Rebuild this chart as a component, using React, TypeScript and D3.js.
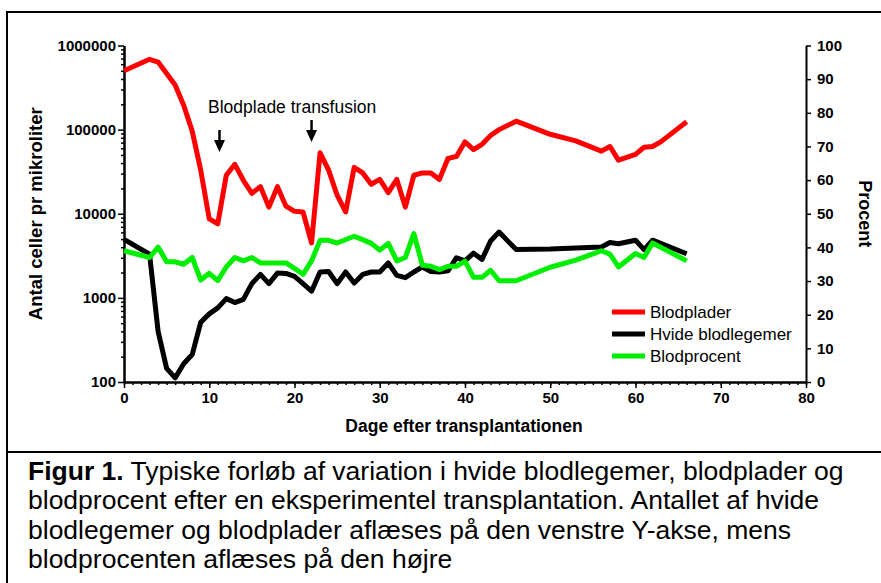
import { useRef, useEffect } from "react"
import * as d3 from "d3"

// days after transplant + values
const plateletDays = [0, 3, 4, 6, 7, 8, 9, 10, 11, 12, 13, 14, 15, 16, 17, 18, 19, 20, 21, 22, 23, 24, 25, 26, 27, 28, 29, 30, 31, 32, 33, 34, 35, 36, 37, 38, 39, 40, 41, 42, 43, 44, 46, 50, 53, 56, 57, 58, 60, 61, 62, 63, 66]
const plateletValues = [500000, 685000, 635000, 340000, 195000, 96000, 33000, 8700, 7600, 28700, 38700, 25000, 17500, 21000, 12000, 21000, 12300, 10700, 10500, 4500, 53000, 33000, 16600, 10500, 35600, 30600, 22400, 25600, 17800, 25600, 12000, 28700, 30600, 30600, 25600, 45400, 48000, 71600, 58000, 67000, 85000, 100000, 126000, 88000, 73600, 55500, 63000, 43400, 50700, 61700, 63000, 72000, 124000]

const wbcDays = [0, 3, 4, 5, 6, 7, 8, 9, 10, 11, 12, 13, 14, 15, 16, 17, 18, 19, 20, 21, 22, 23, 24, 25, 26, 27, 28, 29, 30, 31, 32, 33, 34, 35, 36, 37, 38, 39, 40, 41, 42, 43, 44, 46, 50, 56, 57, 58, 60, 61, 62, 66]
const wbcValues = [4970, 3300, 400, 145, 112, 165, 212, 513, 645, 760, 980, 880, 960, 1475, 1900, 1475, 1970, 1950, 1800, 1475, 1200, 2030, 2060, 1475, 2030, 1500, 1900, 2030, 2030, 2600, 1850, 1740, 2030, 2330, 2060, 2030, 2100, 3000, 2760, 3400, 2870, 4750, 6050, 3750, 3800, 4030, 4540, 4400, 4850, 3750, 4850, 3350]

const hctDays = [0, 3, 4, 5, 6, 7, 8, 9, 10, 11, 12, 13, 14, 15, 16, 19, 20, 21, 22, 23, 24, 25, 27, 28, 29, 30, 31, 32, 33, 34, 35, 36, 37, 38, 39, 40, 41, 42, 43, 44, 46, 50, 53, 56, 57, 58, 60, 61, 62, 66]
const hctValues = [39, 37, 40.1, 35.7, 35.7, 35, 37, 30.3, 32.3, 30.1, 34.2, 37, 36, 37, 35.4, 35.4, 33.8, 32, 36, 42.1, 42.1, 41.3, 43.3, 42.3, 41.2, 39.2, 41.2, 36, 37, 44.1, 34.7, 34.4, 33.4, 34.4, 34.4, 35.9, 31.1, 31.1, 33.2, 30.1, 30.1, 34.1, 36.2, 39, 38, 34.2, 38.2, 37, 41.3, 36]

const leftTicks = [100, 1000, 10000, 100000, 1000000]
const rightTicks = [0, 10, 20, 30, 40, 50, 60, 70, 80, 90, 100]
const xTicks = [0, 10, 20, 30, 40, 50, 60, 70, 80]
const transfusionDays = [11.2, 22]

const legendLabels = ["Blodplader", "Hvide blodlegemer", "Blodprocent"]
const colors = ["#ff0000", "#000000", "#00ee00"]

const captionLines = [
  "Typiske forløb af variation i hvide blodlegemer, blodplader og",
  "blodprocent efter en eksperimentel transplantation. Antallet af hvide",
  "blodlegemer og blodplader aflæses på den venstre Y-akse, mens",
  "blodprocenten aflæses på den højre",
]

const FONT = "'Liberation Sans', Arial, sans-serif"

export default function App() {
  const svgRef = useRef<SVGSVGElement>(null)

  useEffect(() => {
    if (!svgRef.current) return
    const root = d3.select(svgRef.current)
    root.selectAll("*").remove()

    const W = 881
    const H = 583
    const plot = { left: 124, right: 806, top: 45.5, bottom: 382 }

    const x = d3.scaleLinear().domain([0, 80]).range([plot.left, plot.right])
    const yL = d3.scaleLog().domain([100, 1000000]).range([plot.bottom, plot.top])
    const yR = d3.scaleLinear().domain([0, 100]).range([plot.bottom, plot.top])

    root.append("rect").attr("width", W).attr("height", H).attr("fill", "#fff")

    // frames
    root.append("path")
      .attr("d", `M${W + 5},12 H7 V${H + 5}`)
      .attr("fill", "none").attr("stroke", "#000").attr("stroke-width", 2)
    root.append("line")
      .attr("x1", 7).attr("x2", W + 5).attr("y1", 452).attr("y2", 452)
      .attr("stroke", "#000").attr("stroke-width", 2)

    const styleAxis = (g: any) => {
      g.select(".domain").attr("stroke-width", 2)
      g.selectAll(".tick line").attr("stroke-width", 1.5)
      g.selectAll("text").attr("font-family", FONT).attr("font-weight", "bold").attr("font-size", 15).attr("fill", "#000")
    }

    // left log axis
    const minor: number[] = []
    for (let e = 2; e < 6; e++) for (let m = 2; m < 10; m++) minor.push(m * Math.pow(10, e))
    root.append("g").attr("transform", `translate(${plot.left},0)`)
      .call(d3.axisLeft(yL).tickValues(minor).tickSize(3).tickSizeOuter(0).tickFormat(() => ""))
      .call(styleAxis)
    root.append("g").attr("transform", `translate(${plot.left},0)`)
      .call(d3.axisLeft(yL).tickValues(leftTicks).tickSize(6).tickSizeOuter(0).tickPadding(2).tickFormat(d3.format("d")))
      .call(styleAxis)

    // right axis
    root.append("g").attr("transform", `translate(${plot.right},0)`)
      .call(d3.axisRight(yR).tickValues(rightTicks).tickSize(5).tickSizeOuter(0).tickPadding(6))
      .call(styleAxis)

    // x axis
    root.append("g").attr("transform", `translate(0,${plot.bottom})`)
      .call(d3.axisBottom(x).tickValues(d3.range(0, 81, 1)).tickSize(3).tickSizeOuter(0).tickFormat(() => ""))
      .call(styleAxis)
    root.append("g").attr("transform", `translate(0,${plot.bottom})`)
      .call(d3.axisBottom(x).tickValues(xTicks).tickSize(6).tickSizeOuter(0).tickPadding(4))
      .call(styleAxis)

    // axis titles
    root.append("text")
      .attr("transform", `translate(42,${(plot.top + plot.bottom) / 2}) rotate(-90)`)
      .attr("text-anchor", "middle").attr("font-family", FONT).attr("font-weight", "bold").attr("font-size", 18.5)
      .text("Antal celler pr mikroliter")
    root.append("text")
      .attr("transform", `translate(859,${(plot.top + plot.bottom) / 2}) rotate(90)`)
      .attr("text-anchor", "middle").attr("font-family", FONT).attr("font-weight", "bold").attr("font-size", 18)
      .text("Procent")
    root.append("text")
      .attr("x", 464).attr("y", 432)
      .attr("text-anchor", "middle").attr("font-family", FONT).attr("font-weight", "bold").attr("font-size", 17.5)
      .text("Dage efter transplantationen")

    // series
    const lineL = d3.line<[number, number]>().x((d) => x(d[0])).y((d) => yL(d[1]))
    const lineR = d3.line<[number, number]>().x((d) => x(d[0])).y((d) => yR(d[1]))
    const series = [
      { pts: plateletDays.map((d, i) => [d, plateletValues[i]] as [number, number]), gen: lineL },
      { pts: wbcDays.map((d, i) => [d, wbcValues[i]] as [number, number]), gen: lineL },
      { pts: hctDays.map((d, i) => [d, hctValues[i]] as [number, number]), gen: lineR },
    ]
    series.forEach((s, i) => {
      root.append("path")
        .attr("d", s.gen(s.pts))
        .attr("fill", "none").attr("stroke", colors[i]).attr("stroke-width", 5)
        .attr("stroke-linejoin", "round")
    })

    // annotation
    root.append("text")
      .attr("x", 208).attr("y", 113)
      .attr("font-family", FONT).attr("font-size", 17.5).attr("fill", "#000")
      .text("Blodplade transfusion")
    const arrowTops = [130, 120]
    transfusionDays.forEach((d, i) => {
      const ax = x(d)
      const top = arrowTops[i]
      root.append("line").attr("x1", ax).attr("x2", ax).attr("y1", top).attr("y2", top + 12)
        .attr("stroke", "#000").attr("stroke-width", 2.5)
      root.append("path")
        .attr("d", `M${ax - 5.5},${top + 10} L${ax + 5.5},${top + 10} L${ax},${top + 22} Z`)
        .attr("fill", "#000")
    })

    // legend
    legendLabels.forEach((lab, i) => {
      const ly = 312 + i * 22
      root.append("line").attr("x1", 612).attr("x2", 645).attr("y1", ly).attr("y2", ly)
        .attr("stroke", colors[i]).attr("stroke-width", 5)
      root.append("text").attr("x", 650).attr("y", ly + 6)
        .attr("font-family", FONT).attr("font-size", 17).attr("fill", "#000")
        .text(lab)
    })

    // caption
    captionLines.forEach((line, i) => {
      const t = root.append("text").attr("x", 28).attr("y", 480 + i * 29.3)
        .attr("font-family", FONT).attr("font-size", 26.5).attr("fill", "#000")
      if (i === 0) {
        t.append("tspan").attr("font-weight", "bold").text("Figur 1.")
        t.append("tspan").text(" " + line)
      } else {
        t.text(line)
      }
    })
  }, [])

  return (
    <svg
      ref={svgRef}
      width={881}
      height={583}
      style={{ position: "absolute", left: 0, top: 0, display: "block" }}
    />
  )
}
